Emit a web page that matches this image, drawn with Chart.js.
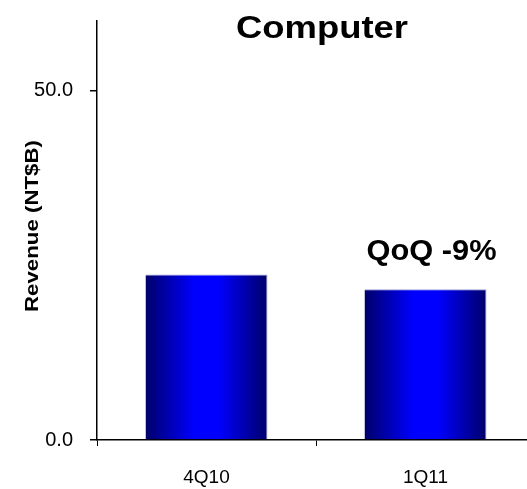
<!DOCTYPE html>
<html>
<head>
<meta charset="utf-8">
<script src="https://cdn.jsdelivr.net/npm/chart.js@4/dist/chart.umd.min.js"></script>
<style>
  html, body { margin: 0; padding: 0; background: #fff; overflow: hidden; }
  #wrap { width: 535px; height: 489px; position: relative; }
</style>
</head>
<body>
<div id="wrap"><canvas id="c"></canvas></div>
<script>
// Quarterly revenue, NT$ billions
const quarters = ['4Q10', '1Q11'];
const revenue = [23.7, 21.6];
const yTicks = [0, 50];
const chartTitle = 'Computer';
const yTitle = 'Revenue (NT$B)';

const FONT = '"Liberation Sans", Arial, Helvetica, sans-serif';
const BAR_PCT = 0.557;

// quarter-on-quarter change shown above the latest bar
const qoq = Math.round((revenue[1] - revenue[0]) / revenue[0] * 100);
const qoqLabel = 'QoQ ' + (qoq > 0 ? '+' : '') + qoq + '%';

// horizontal navy -> blue -> navy shading across each bar
function barFill(ctx) {
  const chart = ctx.chart;
  const xs = chart.scales.x;
  if (!xs || ctx.dataIndex === undefined) return '#0000ff';
  const cx = xs.getPixelForValue(ctx.dataIndex);
  const w = (xs.width / quarters.length) * BAR_PCT;
  if (!isFinite(cx) || !isFinite(w) || w <= 0) return '#0000ff';
  const g = chart.ctx.createLinearGradient(cx - w / 2, 0, cx + w / 2, 0);
  g.addColorStop(0, '#00006a');
  g.addColorStop(0.4, '#0000ff');
  g.addColorStop(0.6, '#0000ff');
  g.addColorStop(1, '#00006a');
  return g;
}

// draws a text string squeezed/stretched to a target width
function fitText(c, text, font, width) {
  c.font = font;
  const natural = c.measureText(text).width;
  c.scale(width / natural, 1);
  c.fillText(text, 0, 0);
}

const textPlugin = {
  id: 'texts',
  afterDraw(chart) {
    const c = chart.ctx;
    const xs = chart.scales.x, ys = chart.scales.y;
    c.save();
    c.fillStyle = '#000';
    c.textAlign = 'center';
    c.textBaseline = 'alphabetic';

    // chart heading
    c.save();
    c.translate(322, 38);
    fitText(c, chartTitle, 'bold 32px ' + FONT, 172);
    c.restore();

    // change annotation above the second bar
    c.save();
    c.translate(xs.getPixelForValue(1) + 6, ys.getPixelForValue(revenue[1]) - 29);
    fitText(c, qoqLabel, 'bold 29px ' + FONT, 130);
    c.restore();

    // vertical axis title
    c.save();
    c.translate(38, 226);
    c.rotate(-Math.PI / 2);
    fitText(c, yTitle, 'bold 18px ' + FONT, 172);
    c.restore();

    c.restore();
  }
};

const chart = new Chart(document.getElementById('c'), {
  type: 'bar',
  data: {
    labels: quarters,
    datasets: [{
      data: revenue,
      backgroundColor: barFill,
      borderColor: '#9c9cd4',
      borderWidth: { top: 1, right: 1, left: 0, bottom: 0 },
      borderSkipped: false,
      barPercentage: BAR_PCT,
      categoryPercentage: 1
    }]
  },
  options: {
    responsive: true,
    maintainAspectRatio: false,
    animation: false,
    events: [],
    layout: { padding: { top: 21, left: 0, right: 0, bottom: 0 } },
    plugins: {
      legend: { display: false },
      title: { display: false },
      tooltip: { enabled: false }
    },
    scales: {
      x: {
        grid: { offset: true, drawOnChartArea: false, tickLength: 6, color: '#000', lineWidth: 1 },
        border: { display: true, color: '#000', width: 1.5 },
        ticks: { color: '#000', padding: 20, font: { family: FONT, size: 19 } },
        afterFit(s) { s.height = 49; s.paddingLeft = 0; s.paddingRight = 0; }
      },
      y: {
        min: 0,
        max: 60,
        grid: { drawOnChartArea: false, tickLength: 7, color: '#000', lineWidth: 1.5 },
        border: { display: true, color: '#000', width: 1.5 },
        ticks: {
          color: '#000',
          padding: 17,
          font: { family: FONT, size: 20 },
          callback: v => Number(v).toFixed(1)
        },
        afterBuildTicks(s) { s.ticks = yTicks.map(v => ({ value: v })); },
        afterFit(s) { s.width = 97; s.paddingTop = 0; s.paddingBottom = 0; }
      }
    }
  },
  plugins: [textPlugin]
});
// re-resolve fills once the scales have their final size
chart.update();
</script>
</body>
</html>
